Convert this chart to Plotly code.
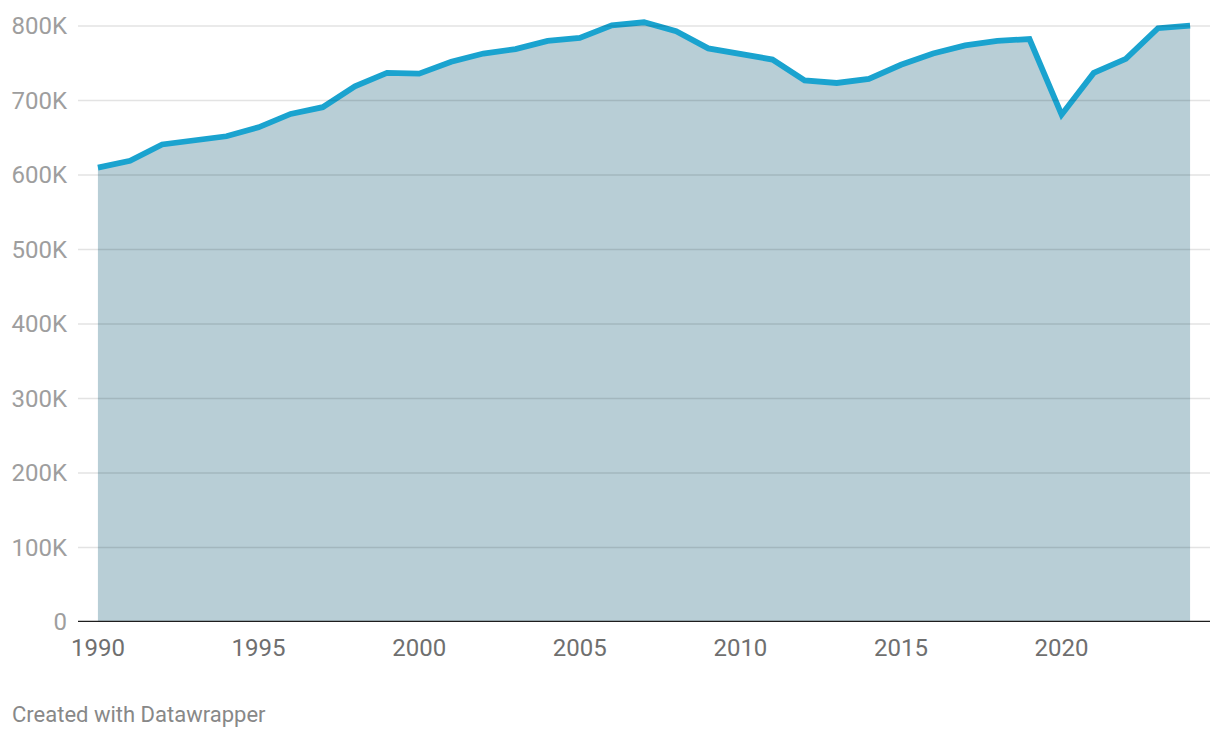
import plotly.graph_objects as go

years = list(range(1990, 2025))
values = [610000, 619000, 641000, 646000, 652000, 664000, 682000, 691000, 719000, 737000,
          736000, 752000, 763000, 769000, 780000, 784000, 801000, 805000, 793000, 770000,
          763000, 755000, 727000, 723500, 729000, 748000, 763000, 774000, 780000, 782500,
          681000, 737000, 756000, 797000, 800500]

y_tickvals = [0, 100000, 200000, 300000, 400000, 500000, 600000, 700000, 800000]
y_ticktext = ["0", "100K", "200K", "300K", "400K", "500K", "600K", "700K", "800K"]
x_tickvals = [1990, 1995, 2000, 2005, 2010, 2015, 2020]
x_ticktext = ["1990", "1995", "2000", "2005", "2010", "2015", "2020"]

# page body has an 8px margin; figure sized/offset to compensate
W, H = 1212, 730
ML, MR, MT, MB = 70, 10, 3, 116
plot_h = H - MT - MB
ymax = plot_h / 596 * 800000

fig = go.Figure()
fig.add_trace(go.Scatter(
    x=years, y=values, mode="lines", fill="tozeroy",
    fillcolor="#b8ced6",
    line=dict(color="#1aa3cf", width=5.8),
    hoverinfo="skip",
))

shapes = []
for v in y_tickvals[1:]:
    shapes.append(dict(type="line", xref="paper", yref="y", x0=0, x1=1, y0=v, y1=v,
                       line=dict(color="rgba(0,0,0,0.11)", width=1.5), layer="above"))
shapes.append(dict(type="line", xref="paper", yref="y", x0=0, x1=1, y0=0, y1=0,
                   line=dict(color="#1d1d1d", width=2.5), layer="above"))

fig.update_layout(
    width=W, height=H,
    margin=dict(l=ML, r=MR, t=MT, b=MB, pad=0),
    paper_bgcolor="white", plot_bgcolor="white",
    showlegend=False,
    font=dict(family="Roboto", size=24),
    shapes=shapes,
    xaxis=dict(range=[1989.38, 2024.62], tickvals=x_tickvals, ticktext=x_ticktext,
               showgrid=False, zeroline=False, showline=False, ticks="",
               tickfont=dict(color="#6f6f6f", size=24), ticklabelstandoff=9),
    yaxis=dict(range=[0, ymax], tickvals=y_tickvals, ticktext=y_ticktext,
               showgrid=False, zeroline=False, showline=False, ticks="",
               tickfont=dict(color="#9e9e9e", size=24), ticklabelstandoff=10),
    annotations=[dict(text="Created with Datawrapper", xref="paper", yref="paper",
                      x=(2 - ML) / (W - ML - MR), y=(H - MB - 706) / plot_h,
                      xanchor="left", yanchor="middle",
                      showarrow=False, font=dict(family="Roboto", size=22, color="#888888"))],
)

fig.write_html("out.html")
